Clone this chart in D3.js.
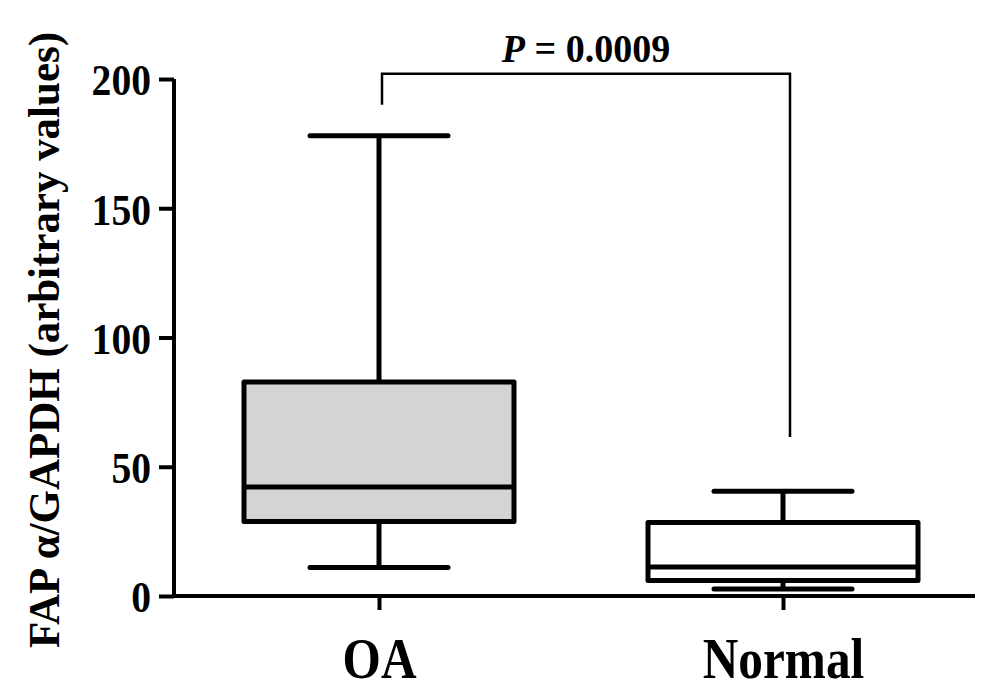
<!DOCTYPE html>
<html>
<head>
<meta charset="utf-8">
<script src="https://cdn.jsdelivr.net/npm/d3@7"></script>
<style>
  body { margin: 0; background: #fff; }
  text { font-family: "Liberation Serif", "Times New Roman", serif; font-weight: bold; fill: #000; }
</style>
</head>
<body>
<svg class="chart" width="1004" height="699"></svg>
<script>
var categories = ["OA", "Normal"];
var mins    = [11, 2.7];
var q1s     = [28.8, 6];
var medians = [42.2, 11.2];
var q3s     = [82.8, 28.4];
var maxs    = [178, 40.5];
var fills   = ["#d4d4d4", "#ffffff"];
var yTicks  = [0, 50, 100, 150, 200];
// bracket: left leg end, top bar, right leg end (in data units)
var bracket = [190, 202, 61.5];
var pLabel  = "0.0009";

var svg = d3.select(".chart");

var y = d3.scaleLinear().domain([0, 200]).range([596, 79]);
var x = d3.scalePoint().domain(categories).range([177, 985]).padding(0.5);

var boxW = 270, capW = 138;

// squeeze a text node horizontally, like the narrow bold type of the original
function squeeze(sel, k) {
  sel.each(function(){
    var len = this.getComputedTextLength();
    d3.select(this).attr("textLength", len * k).attr("lengthAdjust", "spacingAndGlyphs");
  });
}

// y axis
var yAxis = svg.append("g")
  .attr("transform", "translate(174,0)")
  .call(d3.axisLeft(y).tickValues(yTicks).tickSize(15).tickSizeOuter(0).tickPadding(8));
yAxis.select(".domain").attr("stroke-width", 4).attr("d", "M0," + y(200) + "V" + (y(0) + 2));
yAxis.selectAll(".tick line").attr("stroke-width", 4);
yAxis.selectAll(".tick text").style("font-size", "44px").attr("dy", "0.36em").call(squeeze, 0.9);

// x axis
var xAxis = svg.append("g")
  .attr("transform", "translate(0," + y(0) + ")")
  .call(d3.axisBottom(x).tickSize(14).tickSizeOuter(0).tickPadding(30));
xAxis.select(".domain").attr("stroke-width", 4).attr("d", "M172,0H975");
xAxis.selectAll(".tick line").attr("stroke-width", 4);
xAxis.selectAll(".tick text").style("font-size", "56px").attr("dy", "0.68em").call(squeeze, 0.88);

var boxes = svg.selectAll(".box")
  .data(categories)
  .enter().append("g")
    .attr("class", "box");

// whiskers
boxes.append("line")
  .attr("x1", function(d){ return x(d); })
  .attr("x2", function(d){ return x(d); })
  .attr("y1", function(d, i){ return y(maxs[i]); })
  .attr("y2", function(d, i){ return y(mins[i]); })
  .attr("stroke", "#000").attr("stroke-width", 5);

boxes.append("rect")
  .attr("x", function(d){ return x(d) - boxW / 2; })
  .attr("y", function(d, i){ return y(q3s[i]); })
  .attr("width", boxW)
  .attr("height", function(d, i){ return y(q1s[i]) - y(q3s[i]); })
  .attr("fill", function(d, i){ return fills[i]; })
  .attr("stroke", "#000").attr("stroke-width", 5)
  .attr("stroke-linejoin", "round");

boxes.append("line")
  .attr("x1", function(d){ return x(d) - boxW / 2; })
  .attr("x2", function(d){ return x(d) + boxW / 2; })
  .attr("y1", function(d, i){ return y(medians[i]); })
  .attr("y2", function(d, i){ return y(medians[i]); })
  .attr("stroke", "#000").attr("stroke-width", 5);

[maxs, mins].forEach(function(arr){
  boxes.append("line")
    .attr("x1", function(d){ return x(d) - capW / 2; })
    .attr("x2", function(d){ return x(d) + capW / 2; })
    .attr("y1", function(d, i){ return y(arr[i]); })
    .attr("y2", function(d, i){ return y(arr[i]); })
    .attr("stroke", "#000").attr("stroke-width", 5)
    .attr("stroke-linecap", "round");
});

// significance bracket
var bx1 = x("OA") + 3, bx2 = x("Normal") + 7;
svg.append("path")
  .attr("d", "M" + bx1 + "," + y(bracket[0]) + "V" + y(bracket[1]) + "H" + bx2 + "V" + y(bracket[2]))
  .attr("fill", "none").attr("stroke", "#000").attr("stroke-width", 2.5);

var pText = svg.append("text")
  .attr("x", (bx1 + bx2) / 2)
  .attr("y", y(bracket[1]) - 12)
  .attr("text-anchor", "middle")
  .style("font-size", "40px");
pText.append("tspan").style("font-style", "italic").text("P");
pText.append("tspan").text(" = " + pLabel);
pText.call(squeeze, 0.95);

// y label
svg.append("text")
  .attr("transform", "translate(59,340) rotate(-90)")
  .attr("text-anchor", "middle")
  .style("font-size", "44px")
  .attr("textLength", 616)
  .attr("lengthAdjust", "spacingAndGlyphs")
  .text("FAP \u03b1/GAPDH (arbitrary values)");
</script>
</body>
</html>
